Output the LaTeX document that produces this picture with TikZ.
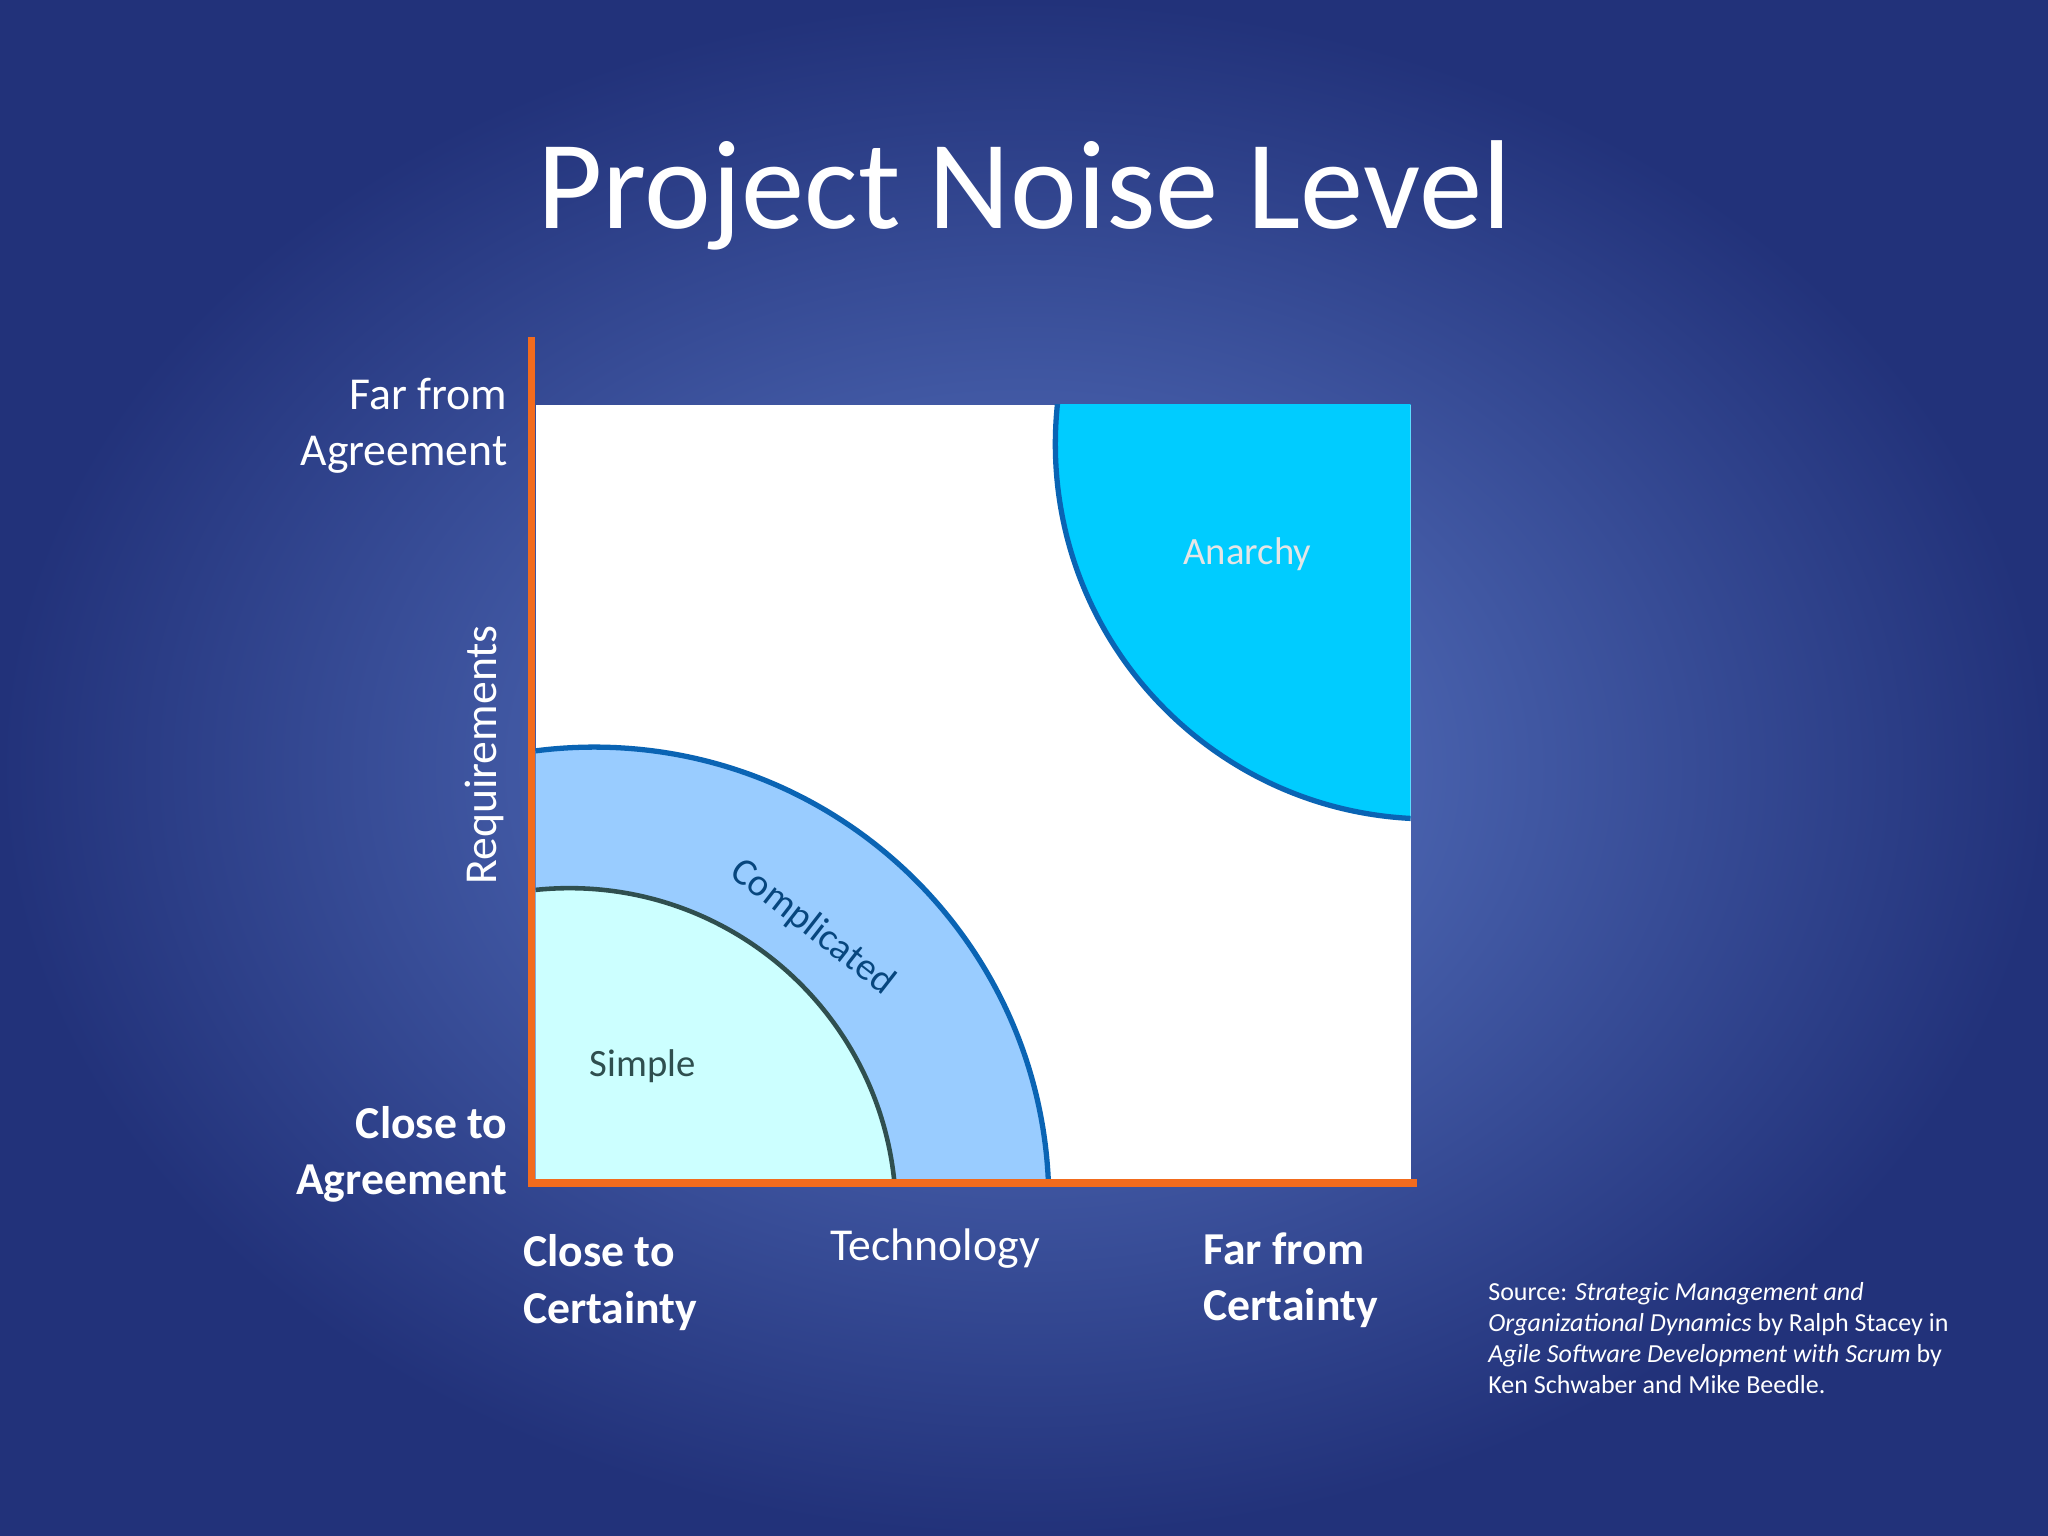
\documentclass[tikz,border=0pt]{standalone}
\usepackage{fontspec}
\setmainfont{Carlito}
\definecolor{bgin}{HTML}{5E7CCA}
\definecolor{bgout}{HTML}{22327A}
\definecolor{axis}{HTML}{F26B1D}
\definecolor{anfill}{HTML}{00CCFF}
\definecolor{edge}{HTML}{0A64B4}
\definecolor{compfill}{HTML}{99CCFF}
\definecolor{simfill}{HTML}{CCFFFF}
\definecolor{simedge}{HTML}{2F4F4F}
\tikzset{lbl/.style={text=white,font=\fontsize{13}{16}\selectfont,align=right},
 bl/.style={lbl,font=\fontsize{13}{16}\selectfont\bfseries}}
\begin{document}
\begin{tikzpicture}[x=0.01306cm,y=-0.01306cm]
\useasboundingbox (0,0) rectangle (1568,1176);
\shade[inner color=bgin,outer color=bgout] (0,0) rectangle (1568,1176);
\node[text=white,font=\fontsize{36}{40}\selectfont] (title) at (784,150) {Project Noise Level};
\fill[white] (410,310) rectangle (1080,905);
\begin{scope}
\clip (410,310) rectangle (1080,905);
\filldraw[fill=anfill,draw=edge,line width=1.5pt] (1095,340) circle (287);
\filldraw[fill=compfill,draw=edge,line width=1.5pt] (455,920) circle (348);
\filldraw[fill=simfill,draw=simedge,line width=1.3pt] (436,930) circle (250);
\end{scope}
\node[text=white!90!black,font=\fontsize{11}{13}\selectfont] (an) at (955,424) {Anarchy};
\node[text=edge!70!black,font=\fontsize{11}{13}\selectfont,rotate=-38] (co) at (622,710) {Complicated};
\node[text=simedge,font=\fontsize{11}{13}\selectfont] (si) at (492,816) {Simple};
\coordinate (top) at (407,258);
\coordinate (orig) at (407,906);
\coordinate (right) at (1085,906);
\draw[axis,line width=2.2pt] (top) -- (orig) -- (right);
\node[lbl,anchor=east] (far) at (398,326) {Far from\\Agreement};
\node[bl,anchor=east] (close) at (398,884) {Close to\\Agreement};
\node[lbl,rotate=90] (req) at (371,578) {Requirements};
\node[bl,anchor=west,align=left] (cc) at (391,982) {Close to\\Certainty};
\node[lbl] (tech) at (716,956) {Technology};
\node[bl,anchor=west,align=left] (fc) at (912,980) {Far from\\Certainty};
\node[text=white,anchor=north west,align=left,font=\fontsize{7.4}{8.9}\selectfont] (src) at (1130,972)
 {Source: \textit{Strategic Management and}\\\textit{Organizational Dynamics} by Ralph Stacey in\\\textit{Agile Software Development with Scrum} by\\Ken Schwaber and Mike Beedle.};
\end{tikzpicture}
\end{document}
